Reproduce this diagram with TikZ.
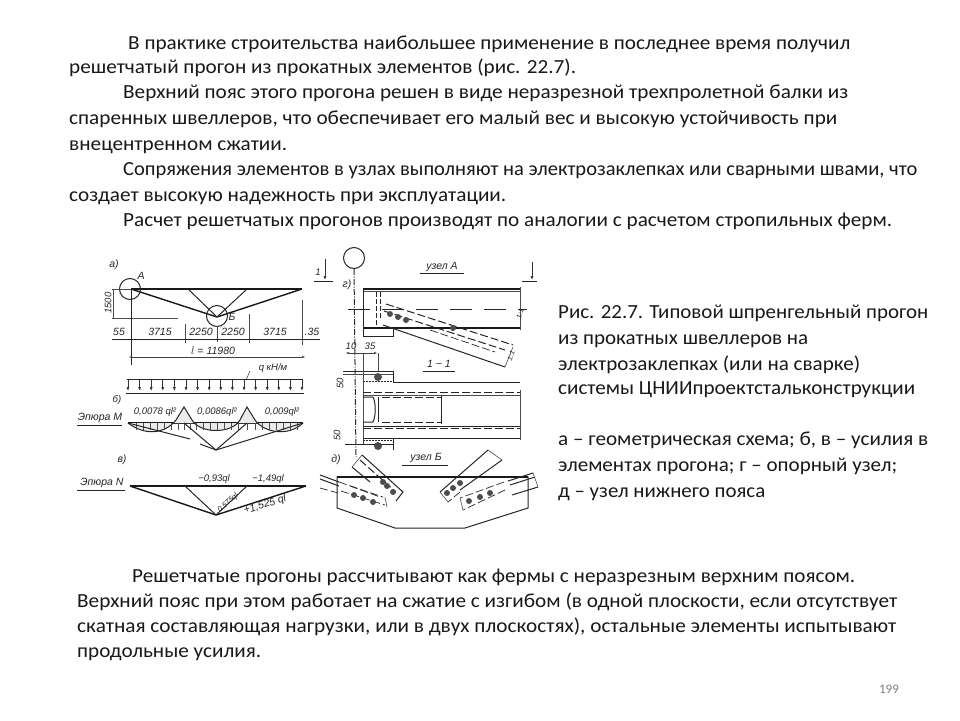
\documentclass[tikz,border=0pt]{standalone}
\usepackage{graphicx}
\usepackage{fontspec}
\setmainfont{Carlito}
\newfontfamily\scanfont{Liberation Sans}
\usetikzlibrary{arrows.meta}
\newcommand{\fitw}[2]{\resizebox{#1pt}{\height}{#2}}
\tikzset{
 x=1pt,y=-1pt,
 para/.style={anchor=base west,inner sep=0pt,font=\fontsize{20}{24}\selectfont,text=black!90},
 lab/.style={inner sep=0pt,font=\scanfont\itshape\fontsize{10.5}{12}\selectfont,text=black!85},
 slab/.style={inner sep=0pt,font=\scanfont\itshape\fontsize{9.5}{11}\selectfont,text=black!85},
 heavy/.style={draw=black!90,line width=1.4pt},
 med/.style={draw=black!85,line width=1pt},
 thin1/.style={draw=black!70,line width=.6pt},
 dsh/.style={draw=black!85,line width=1pt,dash pattern=on 8pt off 3pt},
 dimline/.style={draw=black!75,line width=.6pt,{Latex[length=4pt,width=2pt]}-{Latex[length=4pt,width=2pt]}},
 load/.style={draw=black!80,line width=.7pt,-{Latex[length=4pt,width=3pt]}},
 bolt/.style={circle,fill=black!70,inner sep=0pt,minimum size=6pt},
 ring/.style={circle,draw=black!85,line width=1pt,inner sep=0pt,minimum size=21pt},
}
\begin{document}
\begin{tikzpicture}
\useasboundingbox[fill=white] (0,0) rectangle (960,720);
% --- texts
\node[para] (p1) at (128,49.5) {\fitw{722}{В практике строительства наибольшее применение в последнее время получил}};
\node[para] (p2) at (69,73.5) {\fitw{507}{решетчатый прогон из прокатных элементов (рис. 22.7).}};
\node[para] (p3) at (123,98.5) {\fitw{725}{Верхний пояс этого прогона решен в виде неразрезной трехпролетной балки из}};
\node[para] (p4) at (69,124) {\fitw{768}{спаренных швеллеров, что обеспечивает его малый вес и высокую устойчивость при}};
\node[para] (p5) at (69,150) {\fitw{218}{внецентренном сжатии.}};
\node[para] (p6) at (123,175.5) {\fitw{794}{Сопряжения элементов в узлах выполняют на электрозаклепках или сварными швами, что}};
\node[para] (p7) at (69,201.5) {\fitw{437}{создает высокую надежность при эксплуатации.}};
\node[para] (p8) at (123,226.5) {\fitw{769}{Расчет решетчатых прогонов производят по аналогии с расчетом стропильных ферм.}};
\node[para] (c1) at (558,318) {\fitw{370}{Рис. 22.7. Типовой шпренгельный прогон}};
\node[para] (c2) at (558,344) {\fitw{250}{из прокатных швеллеров на}};
\node[para] (c3) at (558,370) {\fitw{302}{электрозаклепках (или на сварке)}};
\node[para] (c4) at (558,394) {\fitw{357}{системы ЦНИИпроектстальконструкции}};
\node[para] (c5) at (558,445) {\fitw{370}{а – геометрическая схема; б, в – усилия в}};
\node[para] (c6) at (558,471) {\fitw{339}{элементах прогона; г – опорный узел;}};
\node[para] (c7) at (558,497) {\fitw{207}{д – узел нижнего пояса}};
\node[para] (b1) at (132,582) {\fitw{723}{Решетчатые прогоны рассчитывают как фермы с неразрезным верхним поясом.}};
\node[para] (b2) at (77,607) {\fitw{820}{Верхний пояс при этом работает на сжатие с изгибом (в одной плоскости, если отсутствует}};
\node[para] (b3) at (77,632) {\fitw{819}{скатная составляющая нагрузки, или в двух плоскостях), остальные элементы испытывают}};
\node[para] (b4) at (77,657) {\fitw{184}{продольные усилия.}};
\node[inner sep=0pt,font=\fontsize{13}{15}\selectfont,text=black!50] (pg) at (889,689) {199};

% --- a) scheme
\node[lab] (la) at (114,265) {а)};
\coordinate (aL) at (131,289); \coordinate (aR) at (302,289);
\coordinate (aM1) at (188,289); \coordinate (aM2) at (247,289);
\coordinate (aV) at (217,317);
\draw[heavy] (aL) -- (aR);
\draw[heavy] (aL) -- (aV) -- (aR);
\draw[med] (aM1) -- (aV) -- (aM2);
\node[ring] (cA) at (130,289) {};
\node[ring] (cB) at (217,316) {};
\node[lab] (tA) at (141,276) {А};
\node[lab] (tB) at (232,317) {Б};
\node[slab,rotate=90] (d1500) at (108,303) {1500};
\draw[thin1] (112,289) -- (131,289);
\draw[thin1] (112,318) -- (178,318);
\draw[thin1] (113,289) -- (113,318);
\draw[med] (131,289) -- (131,365);
\draw[thin1] (302,300) -- (302,345);
\draw[thin1] (185,324) -- (185,343);
\draw[thin1] (217,326) -- (217,342);
\draw[thin1] (249,314) -- (249,343);
\draw[med] (112,339) -- (320,339);
\foreach \n/\x/\t in {d1/119/55,d2/160/3715,d3/201/2250,d4/233/2250,d5/275/3715,d6/312/.35}
  \node[lab,anchor=base] (\n) at (\x,335) {\t};
\coordinate (lL) at (128,357); \coordinate (lR) at (306,357);
\draw[dimline] (lL) -- (lR);
\node[lab] (dl) at (213,351) {$l$ = 11980};

% --- б) load and moment
\node[slab] (q) at (273,368) {q кН/м};
\draw[thin1] (250,371) -- (246,380);
\draw[med] (127,379) -- (303,379);
\draw[med] (126,393) -- (304,393);
\foreach \i in {0,...,15} \draw[load] ({128+\i*11.6},379) -- ({128+\i*11.6},391);
\node[slab] (lb) at (117,400) {б)};
\node[lab] (em) at (100,418) {Эпюра М};
\draw[med] (77,425) -- (122,425);
\coordinate (bL) at (128,423); \coordinate (bR) at (303,423);
\coordinate (bV) at (216,450); \coordinate (bS1) at (184,423); \coordinate (bS2) at (247,423);
\draw[heavy] (bL) -- (bR);
\draw[med,fill=black!8] (bL) .. controls (145,436) and (165,434) .. (176,420) -- (184,407) -- (192,420) .. controls (200,434) and (232,434) .. (240,420) -- (247,407) -- (255,420) .. controls (265,434) and (290,436) .. (bR);
\foreach \x in {136,143,150,157,164,171,178,184,190,196,203,210,217,224,231,238,247,255,262,269,276,283,290,297}
  \draw[thin1] (\x,423) -- (\x,430);
\draw[med] (bL) -- (190,439);
\draw[med] (200,444) -- (bV) -- (bR);
\draw[med] (bS1) -- (bV) -- (bS2);
\node[slab] (m1) at (155,412) {0,0078 ql²};
\node[slab] (m2) at (217,412) {0,0086ql²};
\node[slab] (m3) at (282,412) {0,009ql²};

% --- в) normal force
\node[lab] (lv) at (122,460) {в)};
\node[lab] (en) at (102,483) {Эпюра N};
\draw[med] (77,490) -- (125,490);
\coordinate (vL) at (130,486); \coordinate (vR) at (306,486);
\coordinate (vV) at (216,515); \coordinate (vS1) at (185,486); \coordinate (vS2) at (247,486);
\draw[heavy] (vL) -- (vR);
\draw[heavy] (vL) -- (vV) -- (vR);
\draw[med] (vS1) -- (vV) -- (vS2);
\node[slab] (n1) at (214,479) {−0,93ql};
\node[slab] (n2) at (268,479) {−1,49ql};
\node[inner sep=0pt,text=black!85,rotate=42,font=\scanfont\itshape\fontsize{7.5}{9}\selectfont] (n3) at (228,503) {0,575ql};
\node[lab,rotate=17] (n4) at (265,505) {+1,525 ql};

% --- section marks
\node[slab] (s1) at (318,272) {1};
\draw[med] (314,281) -- (333,281);
\draw[load] (325,259) -- (325,280);
\draw[med] (522,281) -- (537,281);
\draw[load] (532,262) -- (532,280);

% --- г) node A
\node[ring] (cG) at (354,258) {};
\draw[med,dash pattern=on 6pt off 1.5pt on 1pt off 1.5pt] (cG.south) -- (356,457);
\node[lab] (lg) at (347,285) {г)};
\node[lab] (ua) at (442,267) {узел А};
\draw[med] (420,273) -- (464,273);
\draw[heavy] (363,289) -- (520,289);
\draw[thin1] (363,291) -- (520,291);
\draw[heavy] (363,328) -- (520,328);
\draw[med] (363,289) -- (363,336) -- (393,336) -- (393,329);
\draw[thin1] (520,287) -- (520,330);
\draw[med,dash pattern=on 22pt off 12pt] (348,309) -- (527,309);
\draw[dsh,dash pattern=on 5pt off 2pt] (376,292) -- (376,327);
\draw[dsh,dash pattern=on 5pt off 2pt] (380,292) -- (380,320);
\draw[dsh] (386,304) -- (513,345);
\draw[dsh] (384,311) -- (505,350);
\draw[med] (383,325) -- (505,367);
\draw[thin1] (505,367) -- (513,347);
\draw[dsh,line width=.7pt] (430,330) -- (495,352);
\foreach \n/\x/\y in {g1/390/314,g2/398/317,g3/406/320,g4/453/328}
  \node[bolt] (\n) at (\x,\y) {};
\node[inner sep=0pt,text=black!85,rotate=70,font=\scanfont\itshape\fontsize{7}{8}\selectfont] (g5) at (520,314) {1:1};
\node[inner sep=0pt,text=black!85,rotate=70,font=\scanfont\itshape\fontsize{7}{8}\selectfont] (g6) at (511,356) {1:1};

% --- section 1-1
\node[lab] (s11) at (439,364) {1 − 1};
\draw[med] (423,371) -- (455,371);
\node[slab] (t10) at (351,346) {10};
\node[slab] (t35) at (370,346) {35};
\draw[dimline] (345,353) -- (378,353);
\draw[thin1] (363,353) -- (363,371);
\draw[thin1] (378,353) -- (378,371);
\node[slab,rotate=90] (t50a) at (340,383) {50};
\node[slab,rotate=90] (t50b) at (337,435) {50};
\draw[med] (343,371) -- (393,371) -- (393,382);
\draw[thin1] (343,374) -- (393,374);
\draw[dsh,line width=.8pt,dash pattern=on 2pt off 1pt] (363,381) -- (393,381);
\draw[med] (393,382) -- (520,382);
\node[bolt,minimum size=8pt] (h1) at (378,377) {};
\draw[thin1] (363,371) -- (363,445);
\draw[dsh] (363,392) -- (520,392);
\draw[thin1] (363,395) -- (520,395);
\draw[dsh] (382,397) -- (441,397);
\draw[dsh] (382,422) -- (441,422);
\draw[med] (441,395) -- (441,424);
\draw[med] (363,397) -- (373,397) .. controls (376,403) and (376,416) .. (373,422) -- (363,422);
\draw[med] (378,397) -- (378,422);
\draw[med] (363,426) -- (520,426);
\draw[dsh] (363,428) -- (520,428);
\draw[med] (363,438) -- (520,438);
\draw[thin1] (520,390) -- (520,440);
\draw[dsh,dash pattern=on 2pt off 1pt] (363,440) -- (393,440);
\draw[med] (393,438) -- (393,450);
\draw[med] (345,444) -- (393,444);
\node[bolt,minimum size=8pt] (h2) at (378,446) {};

% --- д) node B
\node[lab] (ld) at (336,460) {д)};
\node[lab] (ub) at (426,458) {узел Б};
\draw[med] (402,465) -- (448,465);
\draw[med,fill=white] (337,477) -- (528,477) -- (528,508) -- (465,528) -- (395,528) -- (337,508) -- cycle;
\draw[heavy] (337,477) -- (528,477);
% left upper brace
\draw[med] (362,455) -- (403,492) -- (396,501);
\draw[med] (352,467) -- (370,482);
\draw[thin1] (362,455) -- (352,467);
\draw[dsh] (360,460) -- (396,492);
% left lower brace
\draw[med] (320,475) -- (339,482);
\draw[med] (320,479) -- (339,486);
\draw[dsh,line width=.7pt] (320,488) -- (338,493);
\draw[dsh,line width=.7pt] (339,482) -- (383,497);
\draw[dsh,line width=.7pt] (341,491) -- (385,505);
\draw[thin1] (385,497) -- (387,507);
\draw[dsh,line width=.7pt] (350,486) -- (380,497);
% right upper brace
\draw[med] (488,450) -- (440,492);
\draw[med] (502,460) -- (460,490);
\draw[thin1] (488,450) -- (502,460);
\draw[dsh,line width=.7pt] (460,492) -- (448,502);
\draw[thin1] (440,492) -- (448,502);
% right lower brace
\draw[med] (533,473) -- (508,481);
\draw[med] (535,477) -- (510,485);
\draw[thin1] (533,473) -- (538,487);
\draw[med] (538,487) -- (512,495);
\draw[dsh,line width=.7pt] (504,482) -- (460,498);
\draw[dsh,line width=.7pt] (505,490) -- (463,510);
\draw[thin1] (460,498) -- (463,510);
\foreach \n/\x/\y in {k1/383/482,k2/387/486,k3/393/492,k4/354/495,k5/363/498,k6/373/502,k7/447/493,k8/453/488,k9/460/483,k10/469/501,k11/480/497,k12/490/493}
  \node[bolt] (\n) at (\x,\y) {};
\end{tikzpicture}
\end{document}
